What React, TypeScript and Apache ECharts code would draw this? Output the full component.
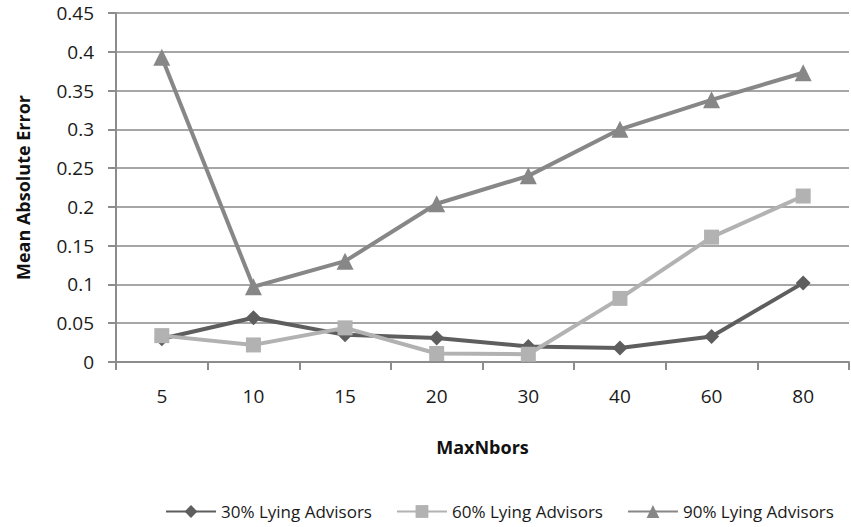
import React, { useEffect, useRef } from "react";
import * as echarts from "echarts";

const categories = ["5", "10", "15", "20", "30", "40", "60", "80"];
const lying30 = [0.03, 0.057, 0.035, 0.031, 0.02, 0.018, 0.033, 0.102];
const lying60 = [0.034, 0.022, 0.044, 0.011, 0.01, 0.082, 0.161, 0.214];
const lying90 = [0.393, 0.097, 0.13, 0.204, 0.24, 0.3, 0.338, 0.373];
const seriesNames = ["30% Lying Advisors", "60% Lying Advisors", "90% Lying Advisors"];

const FONT = "'Open Sans', 'Noto Sans', sans-serif";

export default function App() {
  const ref = useRef<HTMLDivElement>(null);
  useEffect(() => {
    const chart = echarts.init(ref.current!, undefined, { renderer: "svg" });
    const mk = (name: string, data: number[], color: string, symbol: string, size: number) => ({
      name,
      type: "line",
      data,
      symbol,
      symbolSize: size,
      showAllSymbol: true,
      lineStyle: { color, width: 4 },
      itemStyle: { color },
      emphasis: { disabled: true },
    });
    chart.setOption({
      animation: false,
      backgroundColor: "#ffffff",
      textStyle: { fontFamily: FONT },
      grid: { left: 116, right: 2, top: 13, bottom: 165, containLabel: false },
      legend: {
        bottom: 2,
        left: 160,
        width: 690,
        itemGap: 24,
        itemWidth: 50,
        itemHeight: 16,
        textStyle: { fontSize: 17, color: "#1a1a1a", fontFamily: FONT },
        data: seriesNames,
      },
      xAxis: {
        type: "category",
        data: categories,
        boundaryGap: true,
        name: "MaxNbors",
        nameLocation: "middle",
        nameGap: 76,
        nameTextStyle: { fontSize: 18, fontWeight: "bold", color: "#111", fontFamily: FONT },
        axisLine: { lineStyle: { color: "#8c8c8c", width: 2 } },
        axisTick: { show: true, length: 8, alignWithLabel: false, lineStyle: { color: "#8c8c8c", width: 2 } },
        axisLabel: { fontSize: 19, color: "#1a1a1a", margin: 24, fontFamily: FONT },
      },
      yAxis: {
        type: "value",
        min: 0,
        max: 0.45,
        interval: 0.05,
        name: "Mean Absolute Error",
        nameLocation: "middle",
        nameGap: 84,
        nameRotate: 90,
        nameTextStyle: { fontSize: 18, fontWeight: "bold", color: "#111", fontFamily: FONT },
        axisLine: { show: true, lineStyle: { color: "#8c8c8c", width: 2 } },
        axisTick: { show: true, length: 8, lineStyle: { color: "#8c8c8c", width: 2 } },
        splitLine: { lineStyle: { color: "#a6a6a6", width: 2 } },
        axisLabel: {
          fontSize: 19,
          color: "#1a1a1a",
          margin: 22,
          fontFamily: FONT,
          formatter: (v: number) => String(parseFloat(v.toFixed(2))),
        },
      },
      series: [
        mk(seriesNames[0], lying30, "#5e5e5e", "diamond", 15),
        mk(seriesNames[1], lying60, "#b2b2b2", "rect", 15),
        mk(seriesNames[2], lying90, "#878787", "triangle", 17),
      ],
    });
    return () => chart.dispose();
  }, []);
  return <div ref={ref} style={{ width: 851, height: 527, position: "absolute", left: 0, top: 0 }} />;
}
